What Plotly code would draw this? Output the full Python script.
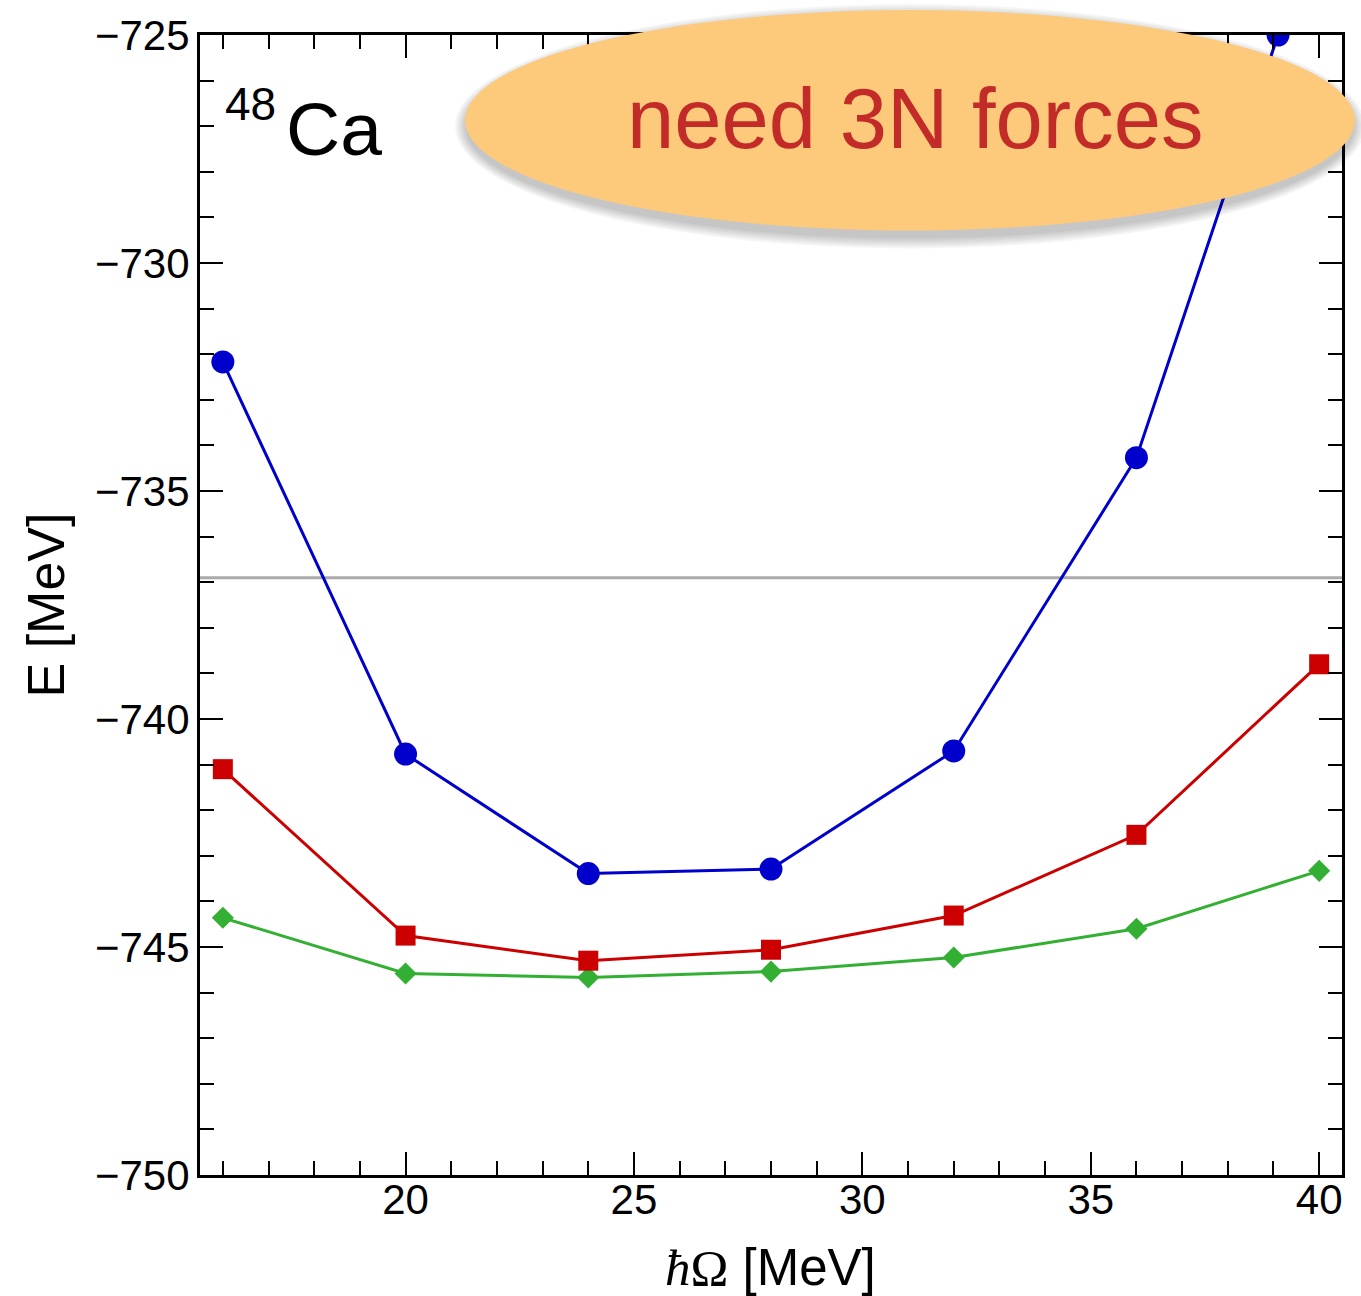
import plotly.graph_objects as go

# Ground-state energy of 48Ca vs. oscillator frequency
hw = [16, 20, 24, 28, 32, 36, 40]
hw_blue = [16, 20, 24, 28, 32, 36, 39.1]
e_blue = [-732.17, -740.77, -743.39, -743.29, -740.70, -734.27, -725.0]
e_red = [-741.10, -744.75, -745.30, -745.06, -744.31, -742.54, -738.80]
e_green = [-744.36, -745.58, -745.67, -745.54, -745.23, -744.60, -743.33]
e_exp = -736.9

x_range = [15.5, 40.5]
y_range = [-750, -725]
x_ticks = [20, 25, 30, 35, 40]
y_ticks = [-750, -745, -740, -735, -730, -725]

W, H = 1361, 1296
L, R, T, B = 200, 19, 32, 121
PW, PH = W - L - R, H - T - B


def px(x):
    return (x - L) / PW


def py(y):
    return (H - B - y) / PH


FONT = "Liberation Sans, Arial, sans-serif"

fig = go.Figure()

fig.add_trace(go.Scatter(
    x=x_range, y=[e_exp, e_exp], mode="lines",
    line=dict(color="#aaaaaa", width=3), hoverinfo="skip", showlegend=False))

fig.add_trace(go.Scatter(
    x=hw, y=e_green, mode="lines+markers",
    line=dict(color="#33b033", width=3),
    marker=dict(symbol="diamond", size=17, color="#33b033"), showlegend=False))
fig.add_trace(go.Scatter(
    x=hw, y=e_red, mode="lines+markers",
    line=dict(color="#cc0000", width=3),
    marker=dict(symbol="square", size=20, color="#cc0000"), showlegend=False))
fig.add_trace(go.Scatter(
    x=hw_blue, y=e_blue, mode="lines+markers",
    line=dict(color="#0000cc", width=3),
    marker=dict(symbol="circle", size=23, color="#0000cc"), showlegend=False))

axis_common = dict(
    showgrid=False, zeroline=False, showline=True, linecolor="black", linewidth=3,
    mirror="allticks", ticks="inside", tickwidth=2, ticklen=23, tickcolor="black",
    tickfont=dict(family=FONT, size=42, color="black"),
)

fig.update_xaxes(
    range=x_range, tickvals=x_ticks, ticklabelstandoff=-14,
    minor=dict(dtick=1, ticks="inside", ticklen=14, tickwidth=2, tickcolor="black"),
    **axis_common)
fig.update_yaxes(
    range=y_range, tickvals=y_ticks, ticklabelstandoff=-1,
    minor=dict(dtick=1, ticks="inside", ticklen=14, tickwidth=2, tickcolor="black"),
    **axis_common)

shapes = []
# soft drop shadow below the callout
cx0, cx1, cy0, cy1 = 465, 1355, 7, 228
for g in range(0, 12, 2):
    shapes.append(dict(
        type="circle", xref="paper", yref="paper", layer="above",
        x0=px(cx0 - g), x1=px(cx1 + g), y0=py(cy1 + 8 + g), y1=py(cy0 + 4 - g),
        fillcolor="rgba(0,0,0,0.04)", line=dict(width=0)))
shapes.append(dict(
    type="circle", xref="paper", yref="paper", layer="above",
    x0=px(cx0), x1=px(cx1), y0=py(cy1), y1=py(cy0),
    fillcolor="#fdc97b", line=dict(width=0)))

annotations = [
    dict(text="need 3N forces", xref="paper", yref="paper", x=px(915), y=py(116),
         xanchor="center", yanchor="middle", showarrow=False,
         font=dict(family=FONT, size=85, color="#c32b28")),
    dict(text="Ca", xref="paper", yref="paper", x=px(284), y=py(126),
         xanchor="left", yanchor="middle", showarrow=False,
         font=dict(family=FONT, size=75, color="black")),
    dict(text="48", xref="paper", yref="paper", x=px(223), y=py(101),
         xanchor="left", yanchor="middle", showarrow=False,
         font=dict(family=FONT, size=46, color="black")),
    dict(text="<span style='font-family:Liberation Serif, Times New Roman, serif'><i>ħ</i>Ω</span> [MeV]",
         xref="paper", yref="paper", x=px(770), y=py(1268),
         xanchor="center", yanchor="middle", showarrow=False,
         font=dict(family=FONT, size=51, color="black")),
    dict(text="E [MeV]", xref="paper", yref="paper", x=px(46), y=py(604),
         xanchor="center", yanchor="middle", showarrow=False, textangle=-90,
         font=dict(family=FONT, size=52, color="black")),
]

fig.update_layout(
    width=W, height=H, margin=dict(l=L, r=R, t=T, b=B),
    plot_bgcolor="white", paper_bgcolor="white",
    shapes=shapes, annotations=annotations, showlegend=False,
)

fig.write_html("out.html")
